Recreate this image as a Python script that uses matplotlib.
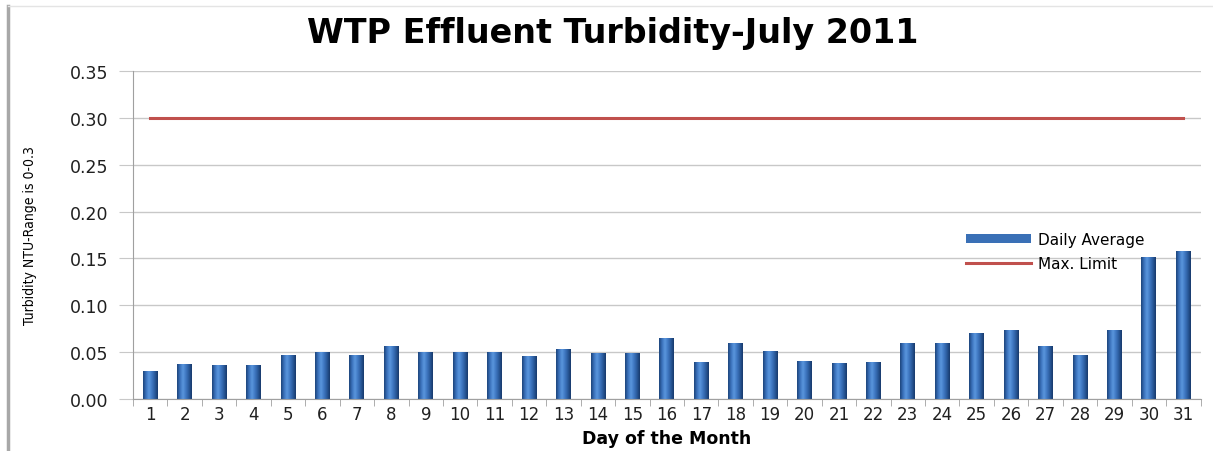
import matplotlib
matplotlib.use("Agg")
import matplotlib.pyplot as plt
import numpy as np
from matplotlib.colors import LinearSegmentedColormap
from matplotlib.lines import Line2D
from matplotlib.ticker import FixedLocator, FormatStrFormatter

days = list(range(1, 32))
daily_average = [0.030, 0.037, 0.036, 0.036, 0.047, 0.050, 0.047, 0.057, 0.050, 0.050,
                 0.050, 0.046, 0.053, 0.049, 0.049, 0.065, 0.040, 0.060, 0.051, 0.041,
                 0.038, 0.040, 0.060, 0.060, 0.070, 0.074, 0.057, 0.047, 0.074, 0.152,
                 0.158]
max_limit = [0.30] * 31
y_ticks = [0.00, 0.05, 0.10, 0.15, 0.20, 0.25, 0.30, 0.35]

title = "WTP Effluent Turbidity-July 2011"
xlabel = "Day of the Month"
ylabel = "Turbidity NTU-Range is 0-0.3"

fig = plt.figure(figsize=(12.13, 4.52), dpi=100)
ax = fig.add_axes([0.1097, 0.115, 0.880, 0.726])

bars = ax.bar(days, daily_average, width=0.43, color="#3A70B6", edgecolor="none",
              zorder=2, label="Daily Average")

cmap = LinearSegmentedColormap.from_list(
    "cyl", ["#1C4379", "#3A72BC", "#5B97DE", "#3F78C2", "#2A5A9C", "#17396A"])
grad = np.linspace(0, 1, 64).reshape(1, -1)
for b in bars:
    x0, y0, w, h = b.get_x(), b.get_y(), b.get_width(), b.get_height()
    im = ax.imshow(grad, extent=[x0, x0 + w, y0, y0 + h], aspect="auto",
                   cmap=cmap, zorder=2.1, interpolation="bicubic")
    im.set_clip_path(b)

line, = ax.plot(days, max_limit, color="#C0504D", linewidth=2.2, zorder=3, label="Max. Limit")

ax.set_xlim(0.5, 31.5)
ax.set_ylim(0, 0.35)
ax.set_aspect("auto")

ax.yaxis.set_major_locator(FixedLocator(y_ticks))
ax.yaxis.set_major_formatter(FormatStrFormatter("%.2f"))
ax.grid(axis="y", color="#C8C8C8", linewidth=1.0, zorder=0)
ax.set_axisbelow(True)

ax.set_xticks(days)
ax.set_xticklabels([str(d) for d in days])
ax.set_xticks(np.arange(0.5, 32, 1.0), minor=True)
ax.tick_params(axis="x", which="major", length=0, pad=4, labelsize=12, labelcolor="#202020")
ax.tick_params(axis="x", which="minor", length=5, color="#A0A0A0", direction="out")
ax.tick_params(axis="y", which="major", length=10, color="#C8C8C8", pad=8,
               labelsize=12.5, labelcolor="#202020")

for s in ["top", "right"]:
    ax.spines[s].set_visible(False)
ax.spines["left"].set_color("#A0A0A0")
ax.spines["bottom"].set_color("#A0A0A0")

fig.text(0.505, 0.925, title, ha="center", va="center", fontsize=24,
         fontweight="bold", color="#000000")
ax.set_xlabel(xlabel, fontsize=12.5, fontweight="bold", color="#000000")
ax.xaxis.set_label_coords(0.50, -0.092)
ax.set_ylabel(ylabel, fontsize=10, family="DejaVu Sans", fontstretch="condensed",
              color="#000000")
ax.yaxis.set_label_coords(-0.09, 0.50)

ax.legend(handles=[bars, line], labels=["Daily Average", "Max. Limit"],
          loc="upper left", bbox_to_anchor=(0.775, 0.527), frameon=False,
          fontsize=11, handlelength=4.2, handleheight=0.5, labelspacing=0.6,
          handletextpad=0.5, borderaxespad=0)

fig.add_artist(Line2D([0.0066, 0.0066], [0.0, 0.985], color="#A8A8A8", linewidth=2.5,
                      transform=fig.transFigure))
fig.add_artist(Line2D([0.0066, 1.0], [0.985, 0.985], color="#E4E4E4", linewidth=1,
                      transform=fig.transFigure))

fig.savefig("out.png", dpi=100)
